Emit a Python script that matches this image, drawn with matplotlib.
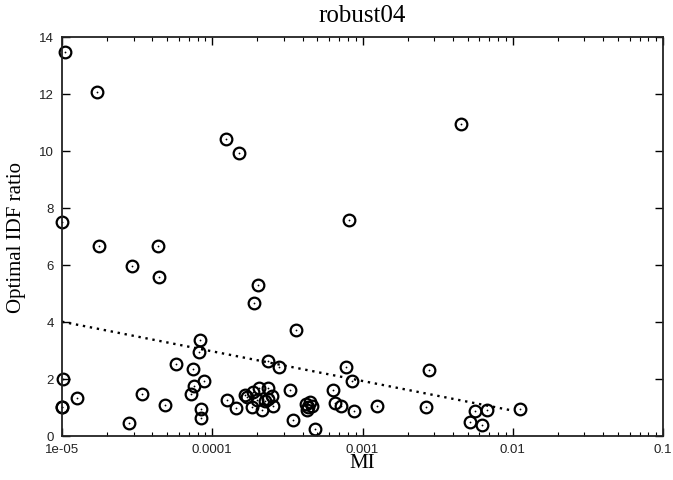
import matplotlib
matplotlib.use("Agg")
import matplotlib.pyplot as plt
from matplotlib.ticker import LogLocator, FixedLocator, NullFormatter

# data (MI, optimal IDF ratio)
mi = [1.05e-5, 1.70e-5, 1.23e-4, 1.51e-4, 4.51e-3, 1.0e-5, 1.77e-5, 4.34e-5,
      2.94e-5, 4.41e-5, 2.03e-4, 1.89e-4, 8.15e-4, 3.60e-4, 8.26e-5, 8.13e-5,
      5.71e-5, 7.48e-5, 8.81e-5, 7.57e-5, 7.26e-5, 1.01e-5, 1.0e-5, 1.0e-5,
      1.26e-5, 3.41e-5, 4.88e-5, 2.78e-5, 8.38e-5, 8.38e-5, 1.25e-4, 1.43e-4,
      2.36e-4, 2.80e-4, 7.78e-4, 8.49e-4, 3.27e-4, 6.37e-4, 3.47e-4, 4.85e-4,
      6.58e-4, 7.16e-4, 8.83e-4, 1.24e-3, 2.77e-3, 2.64e-3, 5.65e-3, 6.79e-3,
      5.20e-3, 6.28e-3, 1.11e-2,
      1.65e-4, 1.87e-4, 2.06e-4, 2.36e-4, 2.49e-4, 2.55e-4, 2.15e-4, 1.83e-4,
      1.98e-4, 2.25e-4, 1.70e-4, 2.36e-4,
      4.21e-4, 4.48e-4, 4.37e-4, 4.59e-4, 4.30e-4]
ratio = [13.45, 12.07, 10.41, 9.93, 10.93, 7.51, 6.65, 6.67,
         5.94, 5.56, 5.28, 4.65, 7.57, 3.72, 3.35, 2.95,
         2.53, 2.34, 1.91, 1.73, 1.45, 1.99, 1.02, 1.00,
         1.33, 1.46, 1.09, 0.43, 0.94, 0.62, 1.24, 0.97,
         2.62, 2.40, 2.40, 1.91, 1.61, 1.61, 0.54, 0.24,
         1.15, 1.03, 0.87, 1.03, 2.31, 1.02, 0.86, 0.90,
         0.49, 0.36, 0.95,
         1.43, 1.52, 1.66, 1.66, 1.40, 1.05, 0.91, 1.00,
         1.26, 1.23, 1.35, 1.29,
         1.11, 1.17, 1.00, 1.05, 0.91]

fit_x = [1e-5, 1e-2]
fit_y = [4.0, 0.88]

xticks = [1e-5, 1e-4, 1e-3, 1e-2, 1e-1]
xtick_labels = ["1e-05", "0.0001", "0.001", "0.01", "0.1"]
yticks = [0, 2, 4, 6, 8, 10, 12, 14]

fig = plt.figure(figsize=(6.73, 4.81), dpi=100)
ax = fig.add_axes([62/673, 1 - 436.7/481, (663-62)/673, (436.7-37.7)/481])

ax.plot(fit_x, fit_y, linestyle=(0, (1, 2.0)), color="black", linewidth=1.7)
ax.plot(mi, ratio, linestyle="none", marker="o", markersize=8.4,
        markerfacecolor="none", markeredgecolor="black", markeredgewidth=1.6,
        clip_on=False)
ax.plot(mi, ratio, linestyle="none", marker="o", markersize=1.3,
        markerfacecolor="black", markeredgecolor="none", clip_on=False)

ax.set_xscale("log")
ax.set_xlim(1e-5, 1e-1)
ax.set_ylim(0, 14)
ax.xaxis.set_major_locator(FixedLocator(xticks))
ax.set_xticklabels(xtick_labels)
ax.xaxis.set_minor_locator(LogLocator(base=10, subs=range(2, 10)))
ax.xaxis.set_minor_formatter(NullFormatter())
ax.set_yticks(yticks)

for lab in ax.get_xticklabels() + ax.get_yticklabels():
    lab.set_fontfamily("Liberation Sans")
    lab.set_fontsize(9.5)
    lab.set_color("#222222")

ax.tick_params(which="both", direction="in", top=True, right=True,
               color="black")
ax.tick_params(which="major", length=5.5, width=1.0)
ax.tick_params(axis="x", which="major", pad=5)
ax.tick_params(axis="y", which="major", pad=6)
ax.tick_params(which="minor", length=3, width=0.8)
for s in ax.spines.values():
    s.set_linewidth(1.3)
    s.set_color("#222222")

ax.set_title("robust04", fontfamily="Liberation Serif", fontsize=18, pad=11)
ax.set_xlabel("MI", fontfamily="Liberation Serif", fontsize=15, labelpad=-1)
ax.set_ylabel("Optimal IDF ratio", fontfamily="Liberation Serif", fontsize=15,
              labelpad=9)

fig.savefig("out.png", dpi=100)
